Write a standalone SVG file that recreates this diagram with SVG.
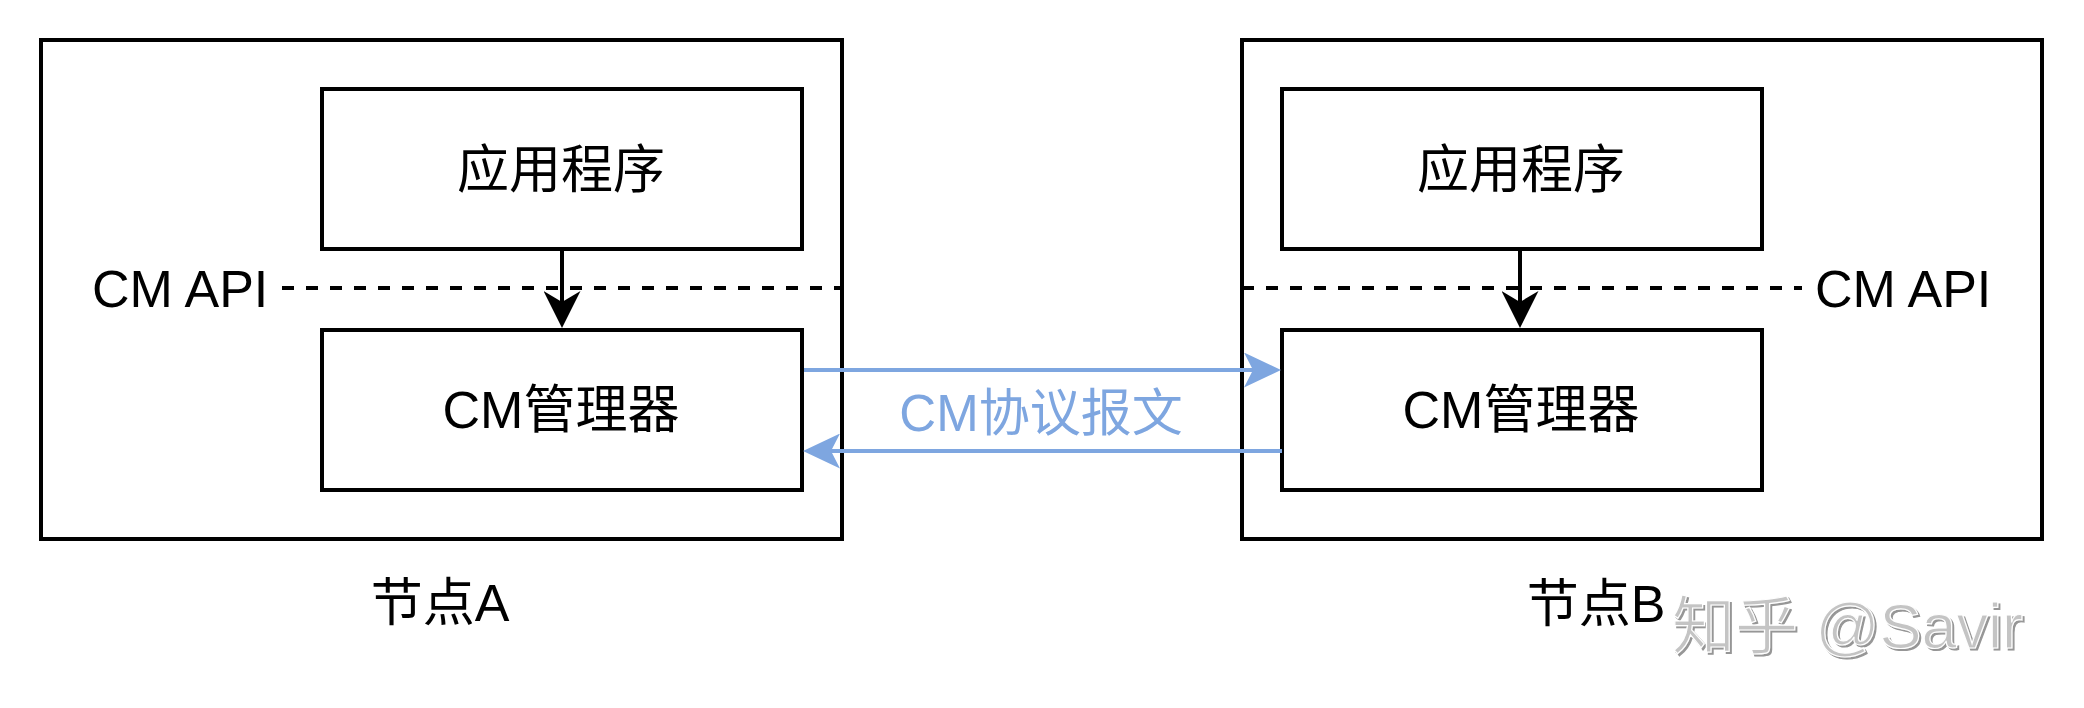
<svg xmlns="http://www.w3.org/2000/svg" width="2084" height="708" viewBox="0 0 2084 708">
<style>
.box{fill:#ffffff;stroke:#000000;stroke-width:4}
.t{font-family:"Liberation Sans","Noto Sans CJK SC",sans-serif;font-size:52px;fill:#000000}
.mid{text-anchor:middle}
.dash{stroke:#000000;stroke-width:4;stroke-dasharray:12 12;fill:none}
.blk{stroke:#000000;stroke-width:4;fill:none}
.blu{stroke:#7EA6E0;stroke-width:4;fill:none}
.wm{font-family:"Liberation Sans","Noto Sans CJK SC",sans-serif;font-size:63px;fill:#c4c4c4;stroke:#ffffff;stroke-width:1.2}
</style>
<defs>
<marker id="ab" markerUnits="userSpaceOnUse" markerWidth="37" markerHeight="37" viewBox="0 0 37 37" refX="11" refY="18.5" orient="auto">
<path d="M0,0 L37,18.5 L0,37 L11,18.5 Z" fill="#000000"/>
</marker>
<marker id="au" markerUnits="userSpaceOnUse" markerWidth="37" markerHeight="35" viewBox="0 0 37 35" refX="9" refY="17.5" orient="auto">
<path d="M0,0 L37,17.5 L0,35 L9,17.5 Z" fill="#7EA6E0"/>
</marker>
<filter id="sh" x="-5%" y="-20%" width="110%" height="140%">
<feDropShadow dx="2" dy="2" stdDeviation="0.6" flood-color="#8a8a8a" flood-opacity="0.9"/>
</filter>
</defs>

<g id="nodeA">
<rect class="box" x="41" y="40" width="801" height="499"/>
<text class="t mid" x="440" y="621">节点A</text>
</g>
<g id="nodeB">
<rect class="box" x="1242" y="40" width="800" height="499"/>
<text class="t mid" x="1596" y="622">节点B</text>
</g>

<g id="appA">
<rect class="box" x="322" y="89" width="480" height="160"/>
<text class="t mid" x="561" y="188">应用程序</text>
</g>
<g id="cmA">
<rect class="box" x="322" y="330" width="480" height="160"/>
<text class="t mid" x="561" y="428">CM管理器</text>
</g>
<g id="appB">
<rect class="box" x="1282" y="89" width="480" height="160"/>
<text class="t mid" x="1521" y="188">应用程序</text>
</g>
<g id="cmB">
<rect class="box" x="1282" y="330" width="480" height="160"/>
<text class="t mid" x="1521" y="428">CM管理器</text>
</g>

<g id="apiA">
<text class="t" x="92" y="307">CM API</text>
</g>
<g id="apiB">
<text class="t" x="1815" y="307">CM API</text>
</g>

<g id="connectors">
<line class="dash" x1="282" y1="288" x2="842" y2="288"/>
<line class="dash" x1="1242" y1="288" x2="1802" y2="288"/>
<line class="blk" x1="562" y1="251" x2="562" y2="302" marker-end="url(#ab)"/>
<line class="blk" x1="1520" y1="251" x2="1520" y2="302" marker-end="url(#ab)"/>
<line class="blu" x1="804" y1="370" x2="1253" y2="370" marker-end="url(#au)"/>
<line class="blu" x1="1282" y1="451" x2="831" y2="451" marker-end="url(#au)"/>
<text class="t mid" x="1041" y="431" style="fill:#7EA6E0;font-size:51px">CM协议报文</text>
</g>

<g id="watermark">
<text class="wm" x="1672" y="648" filter="url(#sh)">知乎 @Savir</text>
</g>
</svg>
